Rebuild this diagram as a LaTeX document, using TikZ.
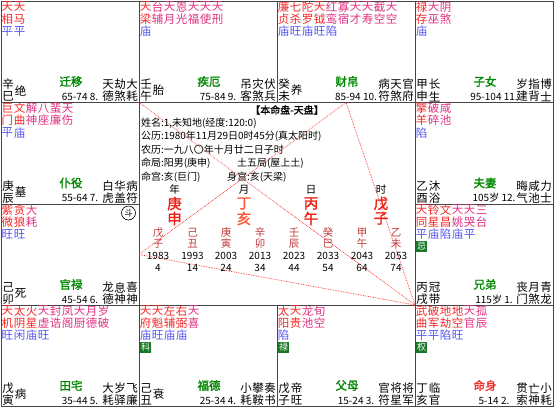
\documentclass[tikz,border=0pt]{standalone}
\usepackage{fontspec}
\setmainfont{Noto Sans CJK SC}
\newfontfamily\cjkb{Noto Sans CJK SC}[FakeBold=1.6]
\definecolor{sa}{RGB}{245,40,40}
\definecolor{sb}{RGB}{225,50,130}
\definecolor{bri}{RGB}{85,85,245}
\definecolor{pal}{RGB}{0,135,0}
\definecolor{hbox}{RGB}{25,120,40}
\definecolor{gridc}{RGB}{70,70,70}
\definecolor{dec}{RGB}{190,60,60}
\definecolor{pil}{RGB}{240,30,20}
\definecolor{pilb}{RGB}{255,85,55}
\tikzset{
  base/.style={inner sep=0pt,outer sep=0pt},
  st/.style={base,font=\fontsize{11.5}{11.5}\selectfont},
  nm/.style={base,font=\fontsize{11.5}{11.5}\selectfont,text=black},
  pal/.style={base,font=\fontsize{11.5}{11.5}\cjkb,text=pal},
  mingpal/.style={base,font=\fontsize{11.5}{11.5}\cjkb,text=sa},
  age/.style={base,font=\fontsize{10}{10}\selectfont,text=black},
  hua/.style={base,fill=hbox,text=white,minimum width=10.5pt,minimum height=11pt,font=\fontsize{9}{9}\selectfont},
  gridl/.style={draw=gridc,line width=0.8pt},
  tri/.style={draw=red!85,densely dotted,line width=0.7pt},
  ctext/.style={base,anchor=west,font=\fontsize{10}{10}\selectfont,text=black},
  pillar/.style={base,font=\fontsize{14.5}{14.5}\cjkb},
  decs/.style={base,font=\fontsize{10.5}{10.5}\selectfont,text=dec},
  decn/.style={base,font=\fontsize{10}{10}\selectfont,text=black},
}
\newcounter{nid}
\newcommand\TX[3][]{\stepcounter{nid}\node[#1] (n\arabic{nid}) at (#2) {#3};}
\newcommand\starc[4]{\TX[st,text=#4]{{6.5+12*#1},6}{#2}\TX[st,text=#4]{{6.5+12*#1},18}{#3}}
\newcommand\bri[2]{\TX[st,text=bri]{{6.5+12*#1},30.5}{#2}}
\newcommand\hua[2]{\TX[hua]{{6.5+12*#1},42}{#2}}
\newcommand\stembranch[2]{\TX[nm]{7,83.5}{#1}\TX[nm]{7,95.5}{#2}}
\newcommand\stageone[1]{\TX[nm]{19.5,89.5}{#1}}
\newcommand\stagetwo[2]{\TX[nm]{19.5,83.5}{#1}\TX[nm]{19.5,95.5}{#2}}
\newcommand\palace[2][pal]{\TX[#1]{70,80.5}{#2}}
\newcommand\agetxt[1]{\TX[age]{79,95.5}{#1}}
\newcommand\shen[6]{\TX[nm]{107,83.5}{#1}\TX[nm]{107,95.5}{#2}\TX[nm]{119,83.5}{#3}\TX[nm]{119,95.5}{#4}\TX[nm]{131,83.5}{#5}\TX[nm]{131,95.5}{#6}}
\begin{document}
\begin{tikzpicture}[x=1pt,y=-1pt]
\useasboundingbox (0,0) rectangle (554,408);
\fill[white] (0,0) rectangle (554,408);
% grid
\draw[gridl] (1,1) rectangle (553,406);
\draw[gridl] (139,1) -- (139,406);
\draw[gridl] (415,1) -- (415,406);
\draw[gridl] (277,1) -- (277,102.5);
\draw[gridl] (277,305) -- (277,406);
\draw[gridl] (1,102.5) -- (553,102.5);
\draw[gridl] (1,305) -- (553,305);
\draw[gridl] (1,204) -- (139,204);
\draw[gridl] (415,204) -- (553,204);
% triangle
\coordinate (ming) at (415,305);
\coordinate (cai) at (346,102.5);
\coordinate (guan) at (139,254.5);
\coordinate (qian) at (139,102.5);
\draw[tri] (ming) -- (cai) -- (guan) -- cycle;
\draw[tri] (qian) -- (ming);
% 巳
\begin{scope}[shift={(1,1)}]
\starc{0}{天}{相}{sa}\starc{1}{天}{马}{sa}
\bri{0}{平}\bri{1}{平}
\stembranch{辛}{巳}\stageone{绝}\palace{迁移}\agetxt{65-74 8.}\shen{天}{德}{劫}{煞}{大}{耗}
\end{scope}
% 午
\begin{scope}[shift={(139,1)}]
\starc{0}{天}{梁}{sa}\starc{1}{台}{辅}{sb}\starc{2}{天}{月}{sb}\starc{3}{恩}{光}{sb}\starc{4}{天}{福}{sb}\starc{5}{天}{使}{sb}\starc{6}{天}{刑}{sb}
\bri{0}{庙}
\stembranch{壬}{午}\stageone{胎}\palace{疾厄}\agetxt{75-84 9.}\shen{吊}{客}{灾}{煞}{伏}{兵}
\end{scope}
% 未
\begin{scope}[shift={(277,1)}]
\starc{0}{廉}{贞}{sa}\starc{1}{七}{杀}{sa}\starc{2}{陀}{罗}{sa}\starc{3}{天}{钺}{sa}\starc{4}{红}{鸾}{sb}\starc{5}{寡}{宿}{sb}\starc{6}{天}{才}{sb}\starc{7}{天}{寿}{sb}\starc{8}{截}{空}{sb}\starc{9}{天}{空}{sb}
\bri{0}{庙}\bri{1}{旺}\bri{2}{庙}\bri{3}{旺}\bri{4}{陷}
\stembranch{癸}{未}\stageone{养}\palace{财帛}\agetxt{85-94 10.}\shen{病}{符}{天}{煞}{官}{府}
\end{scope}
% 申
\begin{scope}[shift={(415,1)}]
\starc{0}{禄}{存}{sa}\starc{1}{天}{巫}{sb}\starc{2}{阴}{煞}{sb}
\bri{0}{庙}
\stembranch{甲}{申}\stagetwo{长}{生}\palace{子女}\agetxt{95-104 11.}\shen{岁}{建}{指}{背}{博}{士}
\end{scope}
% 辰
\begin{scope}[shift={(1,102.5)}]
\starc{0}{巨}{门}{sa}\starc{1}{文}{曲}{sa}\starc{2}{解}{神}{sb}\starc{3}{八}{座}{sb}\starc{4}{蜚}{廉}{sb}\starc{5}{天}{伤}{sb}
\bri{0}{平}\bri{1}{庙}
\stembranch{庚}{辰}\stageone{墓}\palace{仆役}\agetxt{55-64 7.}\shen{白}{虎}{华}{盖}{病}{符}
\end{scope}
% 卯
\begin{scope}[shift={(1,204)}]
\starc{0}{紫}{微}{sa}\starc{1}{贪}{狼}{sa}\starc{2}{大}{耗}{sb}
\bri{0}{旺}\bri{1}{旺}
\TX[base,circle,draw=black,line width=0.6pt,minimum size=14pt,font=\fontsize{8.5}{8.5}\selectfont]{127.5,9}{斗}
\stembranch{己}{卯}\stageone{死}\palace{官禄}\agetxt{45-54 6.}\shen{龙}{德}{息}{神}{喜}{神}
\end{scope}
% 寅
\begin{scope}[shift={(1,305)}]
\starc{0}{天}{机}{sa}\starc{1}{太}{阴}{sa}\starc{2}{火}{星}{sa}\starc{3}{天}{虚}{sb}\starc{4}{封}{诰}{sb}\starc{5}{凤}{阁}{sb}\starc{6}{天}{厨}{sb}\starc{7}{月}{德}{sb}\starc{8}{岁}{破}{sb}
\bri{0}{旺}\bri{1}{闲}\bri{2}{庙}\bri{3}{旺}
\stembranch{戊}{寅}\stageone{病}\palace{田宅}\agetxt{35-44 5.}\shen{大}{耗}{岁}{驿}{飞}{廉}
\end{scope}
% 丑
\begin{scope}[shift={(139,305)}]
\starc{0}{天}{府}{sa}\starc{1}{天}{魁}{sa}\starc{2}{左}{辅}{sa}\starc{3}{右}{弼}{sa}\starc{4}{天}{喜}{sb}
\bri{0}{庙}\bri{1}{旺}\bri{2}{庙}\bri{3}{庙}
\hua{0}{科}
\stembranch{己}{丑}\stageone{衰}\palace{福德}\agetxt{25-34 4.}\shen{小}{耗}{攀}{鞍}{奏}{书}
\end{scope}
% 子
\begin{scope}[shift={(277,305)}]
\starc{0}{太}{阳}{sa}\starc{1}{天}{贵}{sa}\starc{2}{龙}{池}{sb}\starc{3}{旬}{空}{sb}
\bri{0}{陷}
\hua{0}{禄}
\stembranch{戊}{子}\stagetwo{帝}{旺}\palace{父母}\agetxt{15-24 3.}\shen{官}{符}{将}{星}{将}{军}
\end{scope}
% 亥
\begin{scope}[shift={(415,305)}]
\starc{0}{武}{曲}{sa}\starc{1}{破}{军}{sa}\starc{2}{地}{劫}{sa}\starc{3}{地}{空}{sa}\starc{4}{天}{官}{sb}\starc{5}{孤}{辰}{sb}
\bri{0}{平}\bri{1}{平}\bri{2}{陷}\bri{3}{旺}
\hua{0}{权}
\stembranch{丁}{亥}\stagetwo{临}{官}\palace[mingpal]{命身}\agetxt{5-14 2.}\shen{贯}{索}{亡}{神}{小}{耗}
\end{scope}
% 戌
\begin{scope}[shift={(415,204)}]
\starc{0}{天}{同}{sa}\starc{1}{铃}{星}{sa}\starc{2}{文}{昌}{sa}\starc{3}{天}{姚}{sb}\starc{4}{天}{哭}{sb}\starc{5}{三}{台}{sb}
\bri{0}{平}\bri{1}{庙}\bri{2}{陷}\bri{3}{庙}\bri{4}{平}
\hua{0}{忌}
\stembranch{丙}{戌}\stagetwo{冠}{带}\palace{兄弟}\agetxt{115岁 1.}\shen{丧}{门}{月}{煞}{青}{龙}
\end{scope}
% 酉
\begin{scope}[shift={(415,102.5)}]
\starc{0}{擎}{羊}{sa}\starc{1}{破}{碎}{sb}\starc{2}{咸}{池}{sb}
\bri{0}{陷}
\stembranch{乙}{酉}\stagetwo{沐}{浴}\palace{夫妻}\agetxt{105岁 12.}\shen{晦}{气}{咸}{池}{力}{士}
\end{scope}
% center
\TX[base,font=\fontsize{10}{10}\cjkb,text=black]{287,110}{【本命盘-天盘】}
\TX[ctext]{141,123.5}{姓名:1,未知地(经度:120:0)}
\TX[ctext]{141,136.5}{公历:1980年11月29日0时45分(真太阳时)}
\TX[ctext]{141,150}{农历:一九八〇年十月廿二日子时}
\TX[ctext]{141,163}{命局:阳男(庚申)}
\TX[ctext]{237,163}{土五局(屋上土)}
\TX[ctext]{141,177}{命宫:亥(巨门)}
\TX[ctext]{227,177}{身宫:亥(天梁)}
\TX[base,font=\fontsize{10.5}{10.5}\selectfont]{174.5,189.5}{年}
\TX[base,font=\fontsize{10.5}{10.5}\selectfont]{244,189.5}{月}
\TX[base,font=\fontsize{10.5}{10.5}\selectfont]{311,189.5}{日}
\TX[base,font=\fontsize{10.5}{10.5}\selectfont]{381,189.5}{时}
\TX[pillar,text=pil]{174.5,203.5}{庚}\TX[pillar,text=pil]{174.5,218.5}{申}
\TX[pillar,text=pilb]{244,203.5}{丁}\TX[pillar,text=pilb]{244,218.5}{亥}
\TX[pillar,text=pil]{311,203.5}{丙}\TX[pillar,text=pil]{311,218.5}{午}
\TX[pillar,text=pil]{381,203.5}{戊}\TX[pillar,text=pil]{381,218.5}{子}
\foreach \xx/\s/\b/\yr/\ag in {158/戊/子/1983/4,192.5/己/丑/1993/14,226/庚/寅/2003/24,260/辛/卯/2013/34,294/壬/辰/2023/44,328/癸/巳/2033/54,362/甲/午/2043/64,396/乙/未/2053/74}{
  \TX[decs]{\xx,232.5}{\s}
  \TX[decs]{\xx,243.5}{\b}
  \TX[decn]{\xx,256}{\yr}
  \TX[decn]{\xx,267.5}{\ag}
}
\end{tikzpicture}
\end{document}
